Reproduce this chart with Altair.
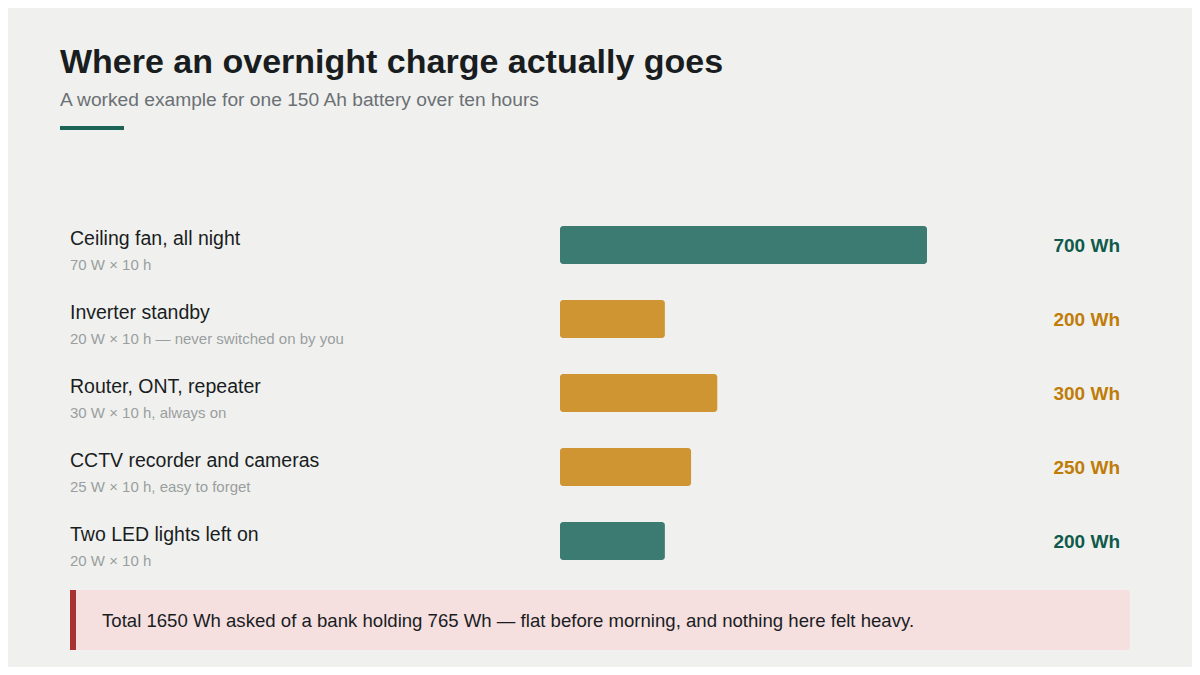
import altair as alt
import pandas as pd

# ---- data ----
labels = [
    "Ceiling fan, all night",
    "Inverter standby",
    "Router, ONT, repeater",
    "CCTV recorder and cameras",
    "Two LED lights left on",
]
details = [
    "70 W × 10 h",
    "20 W × 10 h — never switched on by you",
    "30 W × 10 h, always on",
    "25 W × 10 h, easy to forget",
    "20 W × 10 h",
]
energy_wh = [700, 200, 300, 250, 200]
kinds = ["obvious", "hidden", "hidden", "hidden", "obvious"]

title_text = "Where an overnight charge actually goes"
subtitle_text = "A worked example for one 150 Ah battery over ten hours"
callout_text = ("Total 1650 Wh asked of a bank holding 765 Wh — flat before morning, "
                "and nothing here felt heavy.")

df = pd.DataFrame({
    "label": labels,
    "detail": details,
    "wh": energy_wh,
    "kind": kinds,
})
df["value_label"] = df["wh"].astype(str) + " Wh"

FONT = "Liberation Sans"
BG = "#f0f1ee"

y_enc = alt.Y("label:N", sort=labels, axis=None,
              scale=alt.Scale(domain=labels, range=[200, 570],
                              paddingInner=0.486, paddingOuter=0.243))
x_scale = alt.Scale(domain=[0, 700], range=[552, 919], zero=True, nice=False)

bar_colors = alt.Scale(domain=["obvious", "hidden"], range=["#3b7b71", "#cf9532"])
text_colors = alt.Scale(domain=["obvious", "hidden"], range=["#0f5a4a", "#c07c08"])

base = alt.Chart(df)

bars = base.mark_bar(cornerRadius=3).encode(
    x=alt.X("wh:Q", scale=x_scale, axis=None),
    x2=alt.datum(0),
    y=y_enc,
    color=alt.Color("kind:N", scale=bar_colors, legend=None),
)

name_text = base.mark_text(
    align="left", baseline="alphabetic", dy=-0.5, font=FONT, fontSize=19.5, color="#1a1d1f"
).encode(x=alt.value(62), y=y_enc, text="label:N")

detail_text = base.mark_text(
    align="left", baseline="alphabetic", dy=25, font=FONT, fontSize=15, color="#9a9ea0"
).encode(x=alt.value(62), y=y_enc, text="detail:N")

value_text = base.mark_text(
    align="right", baseline="middle", dy=1, font=FONT, fontSize=19, fontWeight="bold"
).encode(
    x=alt.value(1112), y=y_enc, text="value_label:N",
    color=alt.Color("kind:N", scale=text_colors, legend=None),
)

one = pd.DataFrame({"t": [title_text], "s": [subtitle_text], "c": [callout_text]})
deco = alt.Chart(one)

title = deco.mark_text(align="left", baseline="alphabetic", font=FONT, fontSize=34,
                       fontWeight="bold", color="#1a1d1f").encode(
    x=alt.value(52), y=alt.value(65), text="t:N")
subtitle = deco.mark_text(align="left", baseline="alphabetic", font=FONT, fontSize=19.2,
                          color="#6b7075").encode(
    x=alt.value(52), y=alt.value(98), text="s:N")
accent = deco.mark_rect(color="#1b6356").encode(
    x=alt.value(52), x2=alt.value(116), y=alt.value(118), y2=alt.value(122))

callout_box = deco.mark_rect(color="#f6dfdf", cornerRadius=3).encode(
    x=alt.value(62), x2=alt.value(1122), y=alt.value(582), y2=alt.value(642))
callout_bar = deco.mark_rect(color="#a83232").encode(
    x=alt.value(62), x2=alt.value(68), y=alt.value(582), y2=alt.value(642))
callout = deco.mark_text(align="left", baseline="middle", font=FONT, fontSize=18.6,
                         color="#1a1d1f").encode(
    x=alt.value(94), y=alt.value(613), text="c:N")

chart = alt.layer(
    title, subtitle, accent, bars, name_text, detail_text, value_text,
    callout_box, callout_bar, callout,
).resolve_scale(
    color="independent"
).properties(
    width=1184, height=659,
    autosize=alt.AutoSizeParams(type="none"),
    padding=0,
    background=BG,
).configure_view(stroke=None)

chart.save("out.html", embed_options={"renderer": "svg", "actions": False})
